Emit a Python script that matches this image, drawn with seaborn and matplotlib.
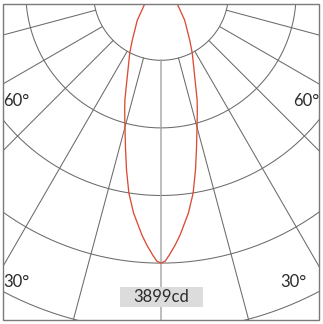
import numpy as np
import pandas as pd
import matplotlib
matplotlib.use("Agg")
import matplotlib.pyplot as plt
from matplotlib.patches import Rectangle
import seaborn as sns

# ---- data ----
angles_deg = [0, 0.9, 1.8, 3.2, 4.5, 7.1, 9.1, 11.0, 12.7, 15.5, 17.2, 18.6, 21.3, 27.4, 31.2, 40.8, 56.9, 70, 90]
intensity_cd = [3899, 3871, 3786, 3646, 3505, 3201, 2928, 2605, 2324, 1950, 1770, 1634, 1353, 979, 799, 522, 273, 120, 0]
peak_cd = 3899
ring_count = 5
spoke_step_deg = 15
angle_labels = ["60°", "60°", "30°", "30°"]
peak_label = "3899cd"

sns.set_style("white")
plt.rcParams["font.family"] = ["Lato", "DejaVu Sans"]

W, H = 323, 324
fig = plt.figure(figsize=(W / 100, H / 100), dpi=100)
fig.patch.set_facecolor("white")

# polar geometry in pixels
cx, cy = 161.0, -7.3          # origin (from top-left)
ring_px = 67.6                # pixel spacing of rings
unit = peak_cd / 4.0          # cd per ring
rmax_units = 5.6
R_px = rmax_units * ring_px
ax = fig.add_axes([(cx - R_px) / W, (H - cy - R_px) / H, 2 * R_px / W, 2 * R_px / H],
                  projection="polar")
ax.set_theta_zero_location("S")
ax.set_theta_direction(1)
ax.grid(False)
ax.set_xticks([])
ax.set_yticks([])
ax.spines["polar"].set_visible(False)
ax.patch.set_alpha(0)

clip = Rectangle((3 / W, 1 - 320 / H), 316 / W, 316 / H, transform=fig.transFigure)

grid_col = "#6b6b6b"
th = np.linspace(0, 2 * np.pi, 721)
for k in range(1, ring_count + 1):
    ax.plot(th, np.full_like(th, k * unit), color=grid_col, lw=0.75)
for a in range(-180, 180, spoke_step_deg):
    col = "#ababab" if a == 0 else grid_col
    lw = 1.1 if a == 0 else 0.75
    ax.plot([np.deg2rad(a)] * 2, [unit, rmax_units * unit], color=col, lw=lw)

# light distribution curve (symmetric)
ang = np.array(angles_deg, dtype=float)
val = np.array(intensity_cd, dtype=float)
theta = np.concatenate([-ang[::-1], ang[1:]])
rr = np.concatenate([val[::-1], val[1:]])
df = pd.DataFrame({"theta": np.deg2rad(theta), "r": rr})
sns.lineplot(data=df, x="theta", y="r", ax=ax, sort=False, estimator=None,
             color="#dc4b35", lw=0.95)
ax.set_xlabel("")
ax.set_ylabel("")
ax.set_ylim(0, rmax_units * unit)
ax.set_xticks([])
ax.set_yticks([])
for ln in ax.lines:
    ln.set_clip_path(clip)

# frame
fig.add_artist(Rectangle((3 / W, 1 - 320 / H), 316 / W, 316 / H, transform=fig.transFigure,
                         fill=False, edgecolor="#7a7a7a", lw=1.0))

# labels
fs = 12
tc = "#2b2b2b"
fig.text(3.5 / W, 1 - 101 / H, angle_labels[0], ha="left", va="center", fontsize=fs, color=tc)
fig.text(319.5 / W, 1 - 101 / H, angle_labels[1], ha="right", va="center", fontsize=fs, color=tc)
fig.text(3.5 / W, 1 - 282 / H, angle_labels[2], ha="left", va="center", fontsize=fs, color=tc)
fig.text(307 / W, 1 - 282 / H, angle_labels[3], ha="right", va="center", fontsize=fs, color=tc)

fig.add_artist(Rectangle((120 / W, 1 - 307 / H), 83 / W, 20 / H, transform=fig.transFigure,
                         facecolor="#dcdcdc", edgecolor="none"))
fig.text(161.5 / W, 1 - 297 / H, peak_label, ha="center", va="center", fontsize=fs, color=tc)

fig.savefig("out.png", dpi=100)
